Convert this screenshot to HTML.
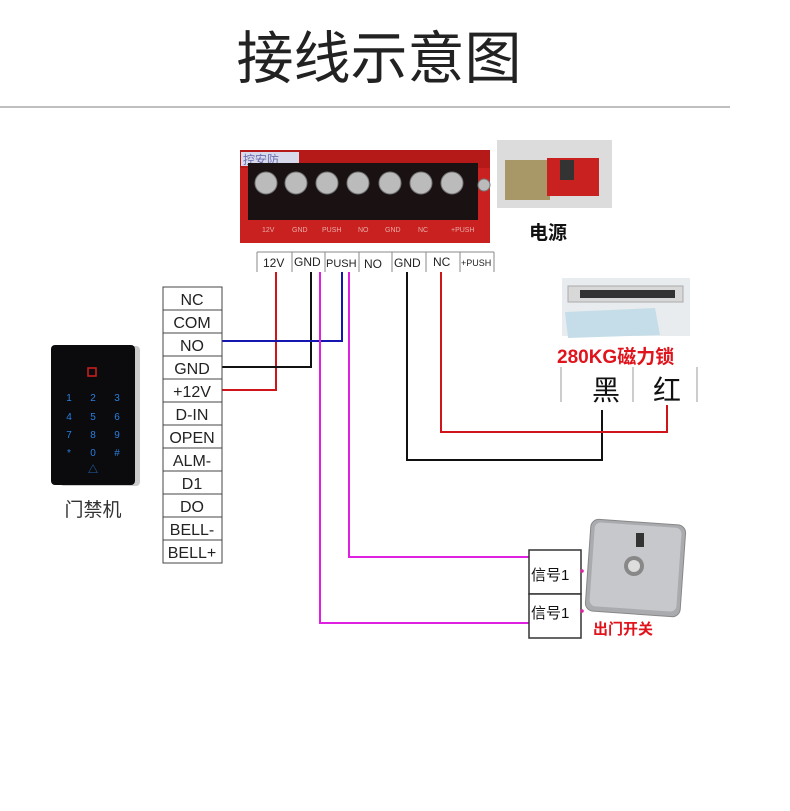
<!DOCTYPE html>
<html><head><meta charset="utf-8"><style>
html,body{margin:0;padding:0;background:#fff;}
svg{display:block}
text{font-family:"Liberation Sans","Noto Sans CJK SC",sans-serif;}
</style></head><body>
<svg width="790" height="811" viewBox="0 0 790 811" xmlns="http://www.w3.org/2000/svg">
<rect width="790" height="811" fill="#fff"/>
<text x="379" y="78" font-size="57" text-anchor="middle" fill="#222" font-family="Noto Sans CJK SC,sans-serif">接线示意图</text>
<line x1="0" y1="107" x2="730" y2="107" stroke="#aaa" stroke-width="1.5"/>

<!-- terminal block photo -->
<rect x="240" y="150" width="250" height="93" fill="#c8211f"/>
<rect x="240" y="150" width="250" height="18" fill="#b51a18"/>
<rect x="241" y="152" width="58" height="14" fill="#d9d9ec"/>
<text x="243" y="164" font-size="12" fill="#6a6fb0" font-family="Noto Sans CJK SC,sans-serif">控安防</text>
<rect x="248" y="163" width="230" height="57" fill="#1a1212"/>
<g fill="#bbb" stroke="#777">
<circle cx="266" cy="183" r="11"/><circle cx="296" cy="183" r="11"/><circle cx="327" cy="183" r="11"/><circle cx="358" cy="183" r="11"/><circle cx="390" cy="183" r="11"/><circle cx="421" cy="183" r="11"/><circle cx="452" cy="183" r="11"/><circle cx="484" cy="185" r="6"/>
</g>
<g font-size="7" fill="#e8aaa8">
<text x="262" y="232">12V</text><text x="292" y="232">GND</text><text x="322" y="232">PUSH</text><text x="358" y="232">NO</text><text x="385" y="232">GND</text><text x="418" y="232">NC</text><text x="451" y="232">+PUSH</text>
</g>
<!-- PSU photo -->
<rect x="497" y="140" width="115" height="68" fill="#dcdcdc"/>
<rect x="505" y="160" width="45" height="40" fill="#a89868"/>
<rect x="547" y="158" width="52" height="38" fill="#c8211f"/>
<rect x="560" y="160" width="14" height="20" fill="#333"/>
<text x="529" y="239" font-size="19" font-weight="bold" fill="#111" font-family="Noto Sans CJK SC,sans-serif">电源</text>

<!-- label row -->
<g stroke="#888" stroke-width="1" fill="none">
<line x1="257" y1="252" x2="257" y2="272"/><line x1="292" y1="252" x2="292" y2="272"/><line x1="325" y1="252" x2="325" y2="272"/><line x1="359" y1="252" x2="359" y2="272"/><line x1="392" y1="252" x2="392" y2="272"/><line x1="426" y1="252" x2="426" y2="272"/><line x1="460" y1="252" x2="460" y2="272"/><line x1="494" y1="252" x2="494" y2="272"/>
<line x1="257" y1="252" x2="494" y2="252"/>
</g>
<g font-size="12" fill="#222">
<text x="263" y="267">12V</text><text x="294" y="266">GND</text><text x="326" y="267" font-size="11">PUSH</text><text x="364" y="268">NO</text><text x="394" y="267">GND</text><text x="433" y="266">NC</text><text x="461" y="266" font-size="9">+PUSH</text>
</g>

<!-- wires -->
<g fill="none" stroke-width="2">
<polyline points="276,272 276,390 222,390" stroke="#d0151a"/>
<polyline points="311,272 311,367 222,367" stroke="#111"/>
<polyline points="342,272 342,341 222,341" stroke="#1515b0"/>
<polyline points="320,272 320,623 530,623" stroke="#e020e0"/>
<polyline points="349,272 349,557 530,557" stroke="#e020e0"/>
<polyline points="407,272 407,460 602,460 602,410" stroke="#111"/>
<polyline points="441,272 441,432 667,432 667,405" stroke="#d0151a"/>
</g>

<!-- left table -->
<g stroke="#444" fill="none" stroke-width="1">
<rect x="163" y="287" width="59" height="276"/>
<line x1="163" y1="310" x2="222" y2="310"/><line x1="163" y1="333" x2="222" y2="333"/><line x1="163" y1="356" x2="222" y2="356"/><line x1="163" y1="379" x2="222" y2="379"/><line x1="163" y1="402" x2="222" y2="402"/><line x1="163" y1="425" x2="222" y2="425"/><line x1="163" y1="448" x2="222" y2="448"/><line x1="163" y1="471" x2="222" y2="471"/><line x1="163" y1="494" x2="222" y2="494"/><line x1="163" y1="517" x2="222" y2="517"/><line x1="163" y1="540" x2="222" y2="540"/>
</g>
<g font-size="16" fill="#222" text-anchor="middle">
<text x="192" y="305">NC</text><text x="192" y="328">COM</text><text x="192" y="351">NO</text><text x="192" y="374">GND</text><text x="192" y="397">+12V</text><text x="192" y="420">D-IN</text><text x="192" y="443">OPEN</text><text x="192" y="466">ALM-</text><text x="192" y="489">D1</text><text x="192" y="512">DO</text><text x="192" y="535">BELL-</text><text x="192" y="558">BELL+</text>
</g>

<!-- keypad -->
<rect x="60" y="346" width="80" height="140" rx="4" fill="#ccc"/>
<rect x="51" y="345" width="84" height="140" rx="4" fill="#0b0b0d"/>
<rect x="88" y="368" width="8" height="8" fill="none" stroke="#d02020" stroke-width="1.5"/>
<g font-size="10" fill="#2a7fe0" text-anchor="middle">
<text x="69" y="401">1</text><text x="93" y="401">2</text><text x="117" y="401">3</text>
<text x="69" y="420">4</text><text x="93" y="420">5</text><text x="117" y="420">6</text>
<text x="69" y="438">7</text><text x="93" y="438">8</text><text x="117" y="438">9</text>
<text x="69" y="456">*</text><text x="93" y="456">0</text><text x="117" y="456">#</text>
<text x="93" y="473">△</text>
</g>
<text x="93" y="516" font-size="19" text-anchor="middle" fill="#333" font-family="Noto Sans CJK SC,sans-serif">门禁机</text>

<!-- lock -->
<rect x="562" y="278" width="128" height="58" fill="#e8ecef"/>
<rect x="568" y="286" width="115" height="16" fill="#d8d8d8" stroke="#aaa"/>
<rect x="580" y="290" width="95" height="8" fill="#333"/>
<polygon points="565,312 655,308 660,335 568,338" fill="#c5dde8"/>
<text x="557" y="363" font-size="19" font-weight="bold" fill="#e0141c" font-family="Noto Sans CJK SC,sans-serif">280KG磁力锁</text>
<g stroke="#999" stroke-width="1"><line x1="561" y1="367" x2="561" y2="402"/><line x1="633" y1="367" x2="633" y2="402"/><line x1="697" y1="367" x2="697" y2="402"/></g>
<text x="606" y="400" font-size="28" text-anchor="middle" fill="#111" font-family="Noto Serif CJK SC,serif">黑</text>
<text x="667" y="400" font-size="28" text-anchor="middle" fill="#111" font-family="Noto Serif CJK SC,serif">红</text>

<!-- signal boxes -->
<g stroke="#333" fill="#fff" stroke-width="1.5"><rect x="529" y="550" width="52" height="44"/><rect x="529" y="594" width="52" height="44"/></g>
<text x="531" y="580" font-size="15" fill="#111" font-family="Noto Sans CJK SC,sans-serif">信号1</text>
<text x="531" y="618" font-size="15" fill="#111" font-family="Noto Sans CJK SC,sans-serif">信号1</text>
<circle cx="582" cy="571" r="1.8" fill="#e020a0"/><circle cx="582" cy="611" r="1.8" fill="#e020a0"/>
<!-- exit button -->
<g transform="rotate(4 635 568)">
<rect x="588" y="522" width="95" height="92" rx="8" fill="#a9abaf" stroke="#888"/>
<rect x="592" y="525" width="87" height="84" rx="6" fill="#c6c8cb"/>
</g>
<circle cx="634" cy="566" r="10" fill="#888"/><circle cx="634" cy="566" r="6" fill="#ddd"/>
<rect x="636" y="533" width="8" height="14" fill="#333"/>
<text x="593" y="634" font-size="15" font-weight="bold" fill="#e0141c" font-family="Noto Sans CJK SC,sans-serif">出门开关</text>
</svg>
</body></html>
